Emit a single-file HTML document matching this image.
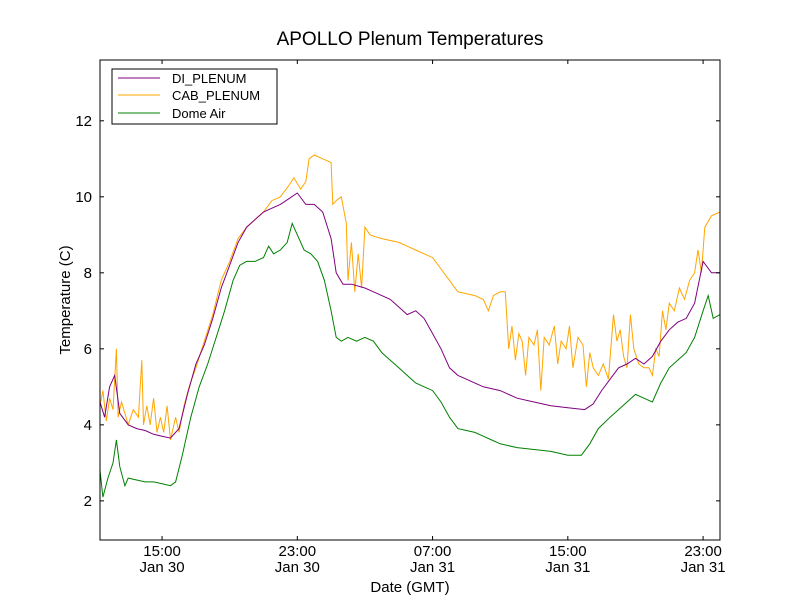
<!DOCTYPE html>
<html><head><meta charset="utf-8"><style>
html,body{margin:0;padding:0;background:#fff;}
svg{display:block;font-family:"Liberation Sans","DejaVu Sans",sans-serif;}
</style></head><body>
<svg id="chart" width="800" height="600" viewBox="0 0 800 600">
<rect x="0" y="0" width="800" height="600" fill="#fff"/>
<text x="410" y="45" font-size="19" text-anchor="middle">APOLLO Plenum Temperatures</text>
<g id="plot"></g>
<text x="410" y="592" font-size="15" text-anchor="middle">Date (GMT)</text>
<text x="70" y="300" font-size="15" text-anchor="middle" transform="rotate(-90 70 300)">Temperature (C)</text>
</svg>
<script>
const diT=[11.33,11.6,11.9,12.2,12.5,13,13.5,14,14.5,15,15.5,16,16.5,17,17.5,18,18.5,19,19.5,20,20.5,21,21.5,22,22.5,23,23.5,24,24.5,25,25.3,25.7,26.2,27,27.5,28,28.5,29,29.5,30,30.5,31,31.5,32,32.5,33,34,35,36,37,38,39,40,40.5,41,41.5,42,42.5,43,43.5,44,44.5,45,45.5,46,46.5,47,47.5,48];
const diV=[4.6,4.2,5.0,5.3,4.3,4.0,3.9,3.85,3.75,3.7,3.65,3.9,4.8,5.6,6.1,6.8,7.6,8.2,8.8,9.2,9.4,9.6,9.7,9.8,9.95,10.1,9.8,9.8,9.6,8.9,8.0,7.7,7.7,7.6,7.5,7.4,7.3,7.1,6.9,7.0,6.8,6.4,6.0,5.5,5.3,5.2,5.0,4.9,4.7,4.6,4.5,4.45,4.4,4.55,4.9,5.2,5.5,5.6,5.75,5.6,5.8,6.2,6.5,6.7,6.8,7.2,8.3,8.0,8.0];
const cabT=[11.33,11.5,11.7,11.9,12.1,12.3,12.4,12.6,12.8,13.0,13.3,13.6,13.8,13.9,14.1,14.3,14.5,14.7,14.9,15.1,15.3,15.5,15.8,16,16.3,16.6,17,17.5,18,18.5,19,19.5,20,20.5,21,21.5,22,22.5,22.8,23.2,23.5,23.7,24,24.5,25,25.1,25.3,25.6,25.9,26,26.2,26.4,26.6,26.8,27,27.3,27.6,28,28.5,29,29.5,30,30.5,31,31.5,32,32.5,33,33.5,34,34.3,34.6,35,35.3,35.5,35.7,35.9,36.1,36.3,36.5,36.7,37,37.2,37.4,37.6,37.9,38.2,38.4,38.6,38.9,39.1,39.3,39.6,39.9,40.1,40.3,40.5,40.8,41.1,41.4,41.7,41.9,42.1,42.3,42.5,42.7,42.9,43.2,43.5,43.8,44,44.2,44.4,44.6,44.8,45,45.3,45.6,45.9,46.2,46.5,46.7,46.9,47.1,47.5,48];
const cabV=[4.5,4.9,4.1,4.7,4.4,6.0,4.2,4.6,4.3,4.0,4.4,4.2,5.7,4.0,4.5,4.0,4.7,3.8,4.2,3.8,4.5,3.6,4.2,3.8,4.5,5.0,5.5,6.2,6.9,7.8,8.3,8.9,9.2,9.4,9.6,9.9,10.0,10.3,10.5,10.2,10.4,11.0,11.1,11.0,10.9,9.8,9.9,10.0,9.3,7.8,8.8,7.5,8.5,7.6,9.2,9.0,8.95,8.9,8.85,8.8,8.7,8.6,8.5,8.4,8.1,7.8,7.5,7.45,7.4,7.3,7.0,7.4,7.5,7.5,6.0,6.6,5.7,6.4,6.2,5.3,6.3,6.1,6.5,4.9,6.3,6.1,6.6,5.6,6.2,6.0,6.6,5.5,6.3,6.1,5.0,5.9,5.5,5.3,5.6,5.2,6.9,6.2,6.5,5.8,5.5,6.9,6.0,5.6,5.5,5.5,5.3,6.0,5.8,7.0,6.5,7.2,7.0,7.6,7.3,7.8,8.0,8.6,8.0,9.2,9.5,9.6];
const domeT=[11.33,11.5,11.8,12.1,12.3,12.5,12.8,13,13.5,14,14.5,15,15.5,15.8,16.2,16.7,17.2,17.7,18.2,18.7,19.2,19.6,20,20.5,21,21.3,21.6,22,22.4,22.7,23,23.4,23.8,24.2,24.6,25,25.3,25.6,26,26.5,27,27.5,28,28.5,29,29.5,30,30.5,31,31.5,32,32.5,33,33.5,34,34.5,35,36,37,38,39,39.8,40.3,40.8,41.5,42,42.5,43,43.5,44,44.5,45,45.5,46,46.5,47,47.3,47.6,48];
const domeV=[2.8,2.1,2.6,3.0,3.6,2.9,2.4,2.6,2.55,2.5,2.5,2.45,2.4,2.5,3.2,4.2,5.0,5.6,6.3,7.0,7.8,8.2,8.3,8.3,8.4,8.7,8.5,8.6,8.8,9.3,9.0,8.6,8.5,8.3,7.8,7.0,6.3,6.2,6.3,6.2,6.3,6.2,5.9,5.7,5.5,5.3,5.1,5.0,4.9,4.6,4.2,3.9,3.85,3.8,3.7,3.6,3.5,3.4,3.35,3.3,3.2,3.2,3.5,3.9,4.2,4.4,4.6,4.8,4.7,4.6,5.1,5.5,5.7,5.9,6.3,7.0,7.4,6.8,6.9];
const yTicks=[2,4,6,8,10,12];
const xTicks=[15,23,31,39,47];
const xTickTimes=["15:00","23:00","07:00","15:00","23:00"];
const xTickDates=["Jan 30","Jan 30","Jan 31","Jan 31","Jan 31"];

const L=100,R=720,T=60,B=540,xMin=11.33,xMax=48.0,yMin=0.97,yMax=13.6;
const xs=h=>L+(h-xMin)/(xMax-xMin)*(R-L);
const ys=v=>B-(v-yMin)/(yMax-yMin)*(B-T);
const NS="http://www.w3.org/2000/svg";
const plot=document.getElementById('plot');
function mk(tag,attrs,parent){const e=document.createElementNS(NS,tag);for(const k in attrs)e.setAttribute(k,attrs[k]);(parent||plot).appendChild(e);return e;}

function series(t,v,color,name){
  const d=t.map((h,i)=>(i?'L':'M')+xs(h).toFixed(1)+','+ys(v[i]).toFixed(1)).join('');
  const p=mk('path',{d:d,fill:'none',stroke:color,'stroke-width':1});
  
  
}
series(domeT,domeV,'#008000','dome-air-line');
series(cabT,cabV,'#ffa500','cab-plenum-line');
series(diT,diV,'#800080','di-plenum-line');

const frame=mk('rect',{x:L,y:T,width:R-L,height:B-T,fill:'none',stroke:'#000','stroke-width':1});



yTicks.forEach(v=>{
  const y=ys(v);
  mk('line',{x1:L,x2:L+4,y1:y,y2:y,stroke:'#000'});
  mk('line',{x1:R,x2:R-4,y1:y,y2:y,stroke:'#000'});
  const t=mk('text',{x:L-8,y:y+5,'font-size':15,'text-anchor':'end'});
  t.textContent=v;
  
  
});
xTicks.forEach((h,i)=>{
  const x=xs(h);
  mk('line',{x1:x,x2:x,y1:B,y2:B-4,stroke:'#000'});
  mk('line',{x1:x,x2:x,y1:T,y2:T+4,stroke:'#000'});
  const t1=mk('text',{x:x,y:B+16,'font-size':15,'text-anchor':'middle'});
  t1.textContent=xTickTimes[i];
  
  
  const t2=mk('text',{x:x,y:B+32,'font-size':15,'text-anchor':'middle'});
  t2.textContent=xTickDates[i];
  
  
});

const lg=mk('g',{});


mk('rect',{x:112,y:69,width:165,height:55,fill:'#fff',stroke:'#000'},lg);
[['DI_PLENUM','#800080',78],['CAB_PLENUM','#ffa500',95],['Dome Air','#008000',113]].forEach(e=>{
  mk('line',{x1:118,x2:160,y1:e[2],y2:e[2],stroke:e[1]},lg);
  const t=mk('text',{x:172,y:e[2]+5,'font-size':13},lg);
  t.textContent=e[0];
  
  
});
</script>
</body></html>
